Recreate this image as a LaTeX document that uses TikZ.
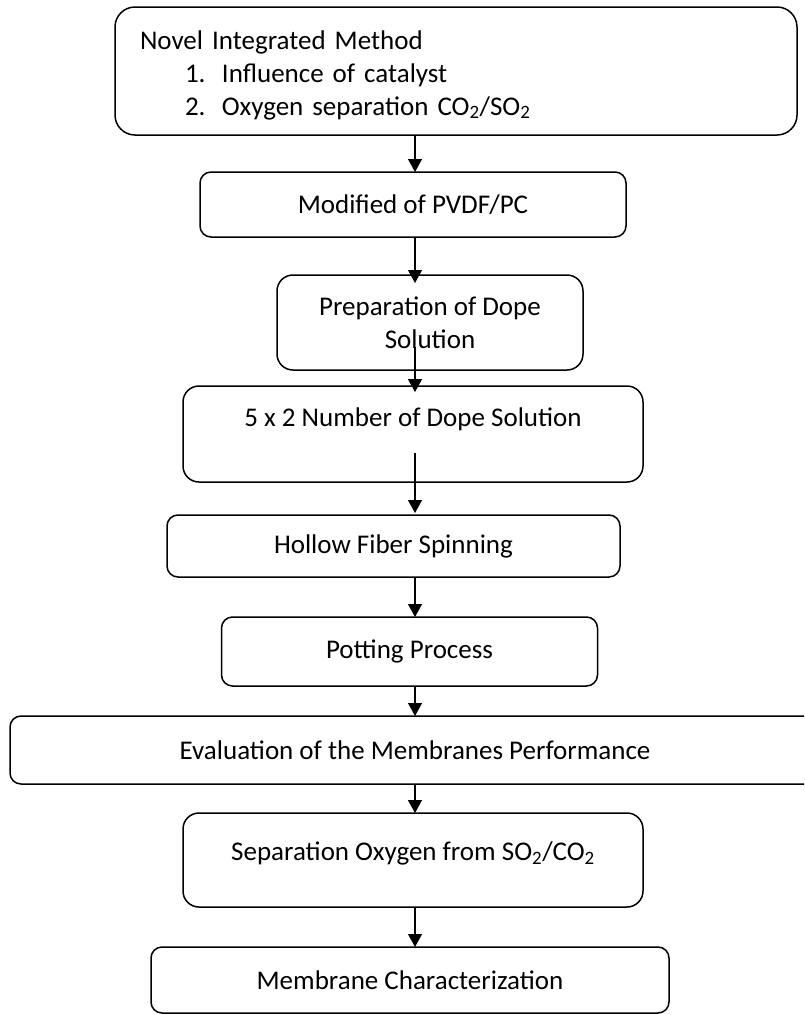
\documentclass[tikz,border=0pt]{standalone}
\usepackage{fontspec}
\setmainfont{Carlito}
\usepackage{tikz}
\usetikzlibrary{positioning,arrows.meta}
\tikzset{
stage/.style={draw, line width=1.5pt, rounded corners=11pt, inner sep=0pt, outer sep=0pt, align=center}, % one box of the chart
flow/.style={-{Triangle[width=14pt,length=13pt]}, line width=1.3pt}, % arrow from box to box
%every node/.style={font=\small},
}

\begin{document}
\begin{tikzpicture}[x=1pt,y=-1pt,font=\fontsize{27}{33}\selectfont]
   \useasboundingbox (0,0) rectangle (804,1015);
   \clip (0,0) rectangle (804,1015);
   \node[stage, rounded corners=20pt, minimum width=682pt, minimum height=128pt, text width=632pt, align=left] (s_1) at (456,71)
      {\rule{0pt}{27pt}Novel Integrated Method\\
       \hspace*{45pt}\makebox[37pt][l]{1.}Influence of catalyst\\
       \hspace*{45pt}\makebox[37pt][l]{2.}Oxygen separation CO\textsubscript{2}/SO\textsubscript{2}};
   \node[stage, minimum width=426pt, minimum height=65pt] (s_2) [below=37pt of s_1, xshift=-43pt] {Modified of PVDF/PC};
   \node[stage, rounded corners=16pt, minimum width=306pt, minimum height=95pt] (s_3) [below=38pt of s_2, xshift=17pt] {Preparation of Dope\\Solution};
   \node[stage, rounded corners=16pt, minimum width=460pt, minimum height=96pt, text height=20pt, text depth=35pt] (s_4) [below=16pt of s_3, xshift=-17pt] {5 x 2 Number of Dope Solution};
   \node[stage, minimum width=453pt, minimum height=62pt] (s_5) [below=33pt of s_4, xshift=-19.5pt] {Hollow Fiber Spinning};
   \node[stage, minimum width=376pt, minimum height=69pt] (s_6) [below=40pt of s_5, xshift=16pt] {Potting Process};
   \node[stage, minimum width=810pt, minimum height=68pt] (s_7) [below=30pt of s_6, xshift=5.5pt] {Evaluation of the Membranes Performance};
   \node[stage, rounded corners=16pt, minimum width=460pt, minimum height=94pt, text height=20pt, text depth=19pt] (s_8) [below=29pt of s_7, xshift=-2pt] {Separation Oxygen from SO\textsubscript{2}/CO\textsubscript{2}};
   \node[stage, minimum width=518pt, minimum height=66pt] (s_9) [below=40pt of s_8, xshift=-3pt] {Membrane Characterization};
   \coordinate (spine) at (415,0);
   \draw[flow] (s_1.south -| spine) -- (s_2.north -| spine);
   \draw[flow, shorten >=-8pt] (s_2.south -| spine) -- (s_3.north -| spine);
   \draw[flow, shorten <=-23pt, shorten >=-6pt] (s_3.south -| spine) -- (s_4.north -| spine);
   \draw[flow, shorten <=-29pt, shorten >=2pt] (s_4.south -| spine) -- (s_5.north -| spine);
   \draw[flow] (s_5.south -| spine) -- (s_6.north -| spine);
   \draw[flow] (s_6.south -| spine) -- (s_7.north -| spine);
   \draw[flow] (s_7.south -| spine) -- (s_8.north -| spine);
   \draw[flow] (s_8.south -| spine) -- (s_9.north -| spine);
\end{tikzpicture}
\end{document}
